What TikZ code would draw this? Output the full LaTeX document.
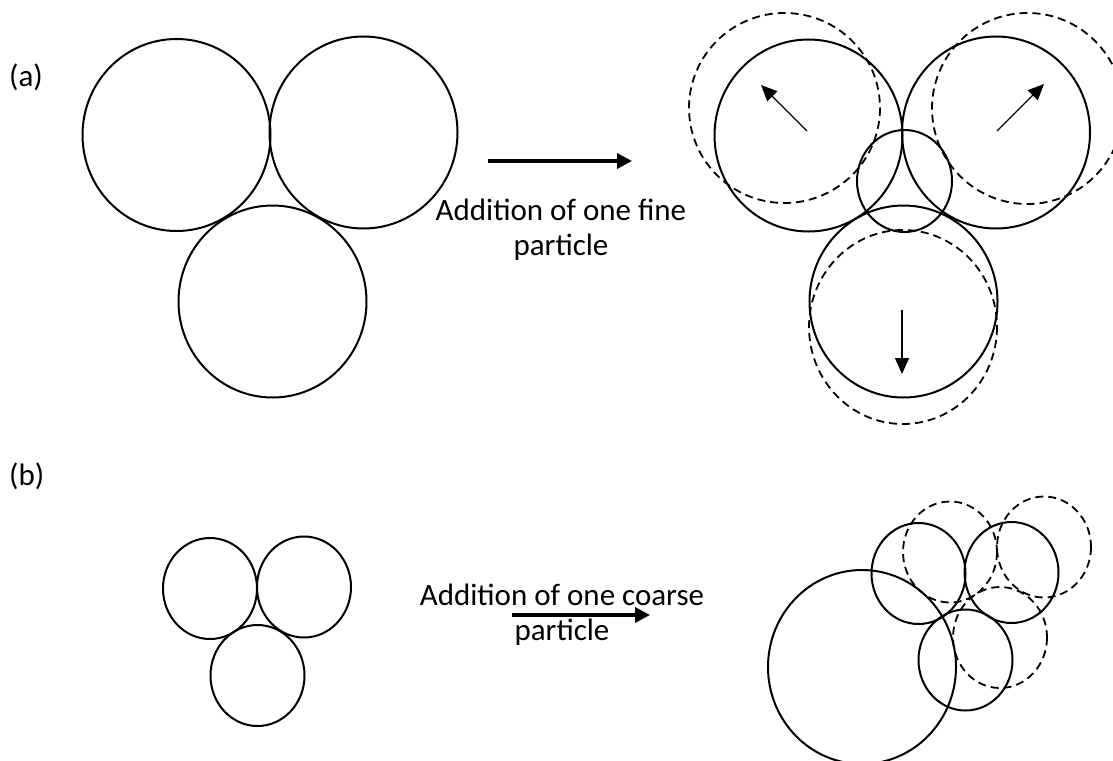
\documentclass[tikz,border=0pt]{standalone}
\usepackage{fontspec}
\setmainfont{Carlito}
\usetikzlibrary{arrows.meta}
\tikzset{
  grain/.style={draw=black, line width=2pt},
  oldgrain/.style={draw=black, line width=1.8pt, dash pattern=on 8pt off 5pt},
  pusharrow/.style={-{Triangle[length=16pt, width=14pt]}, line width=1.3pt},
  addarrow/.style={-{Triangle[length=15pt, width=15pt]}, line width=3.5pt},
  % particle sizes
  coarse/.style={x radius=94, y radius=96},
  fine/.style={x radius=47, y radius=50.5},
}

\begin{document}
\begin{tikzpicture}[
      x=1pt, y=-1pt,
      lbl/.style={font=\fontsize{31}{35}\selectfont, inner sep=0pt},
    ]
    \useasboundingbox (0,0) rectangle (1113,760);

    % (a) fine particle added
    \node[lbl, anchor=west] (labA) at (9,77) {(a)};
    \coordinate (A1) at (176.5,135);
    \coordinate (A2) at (363.5,132.5);
    \coordinate (A3) at (272.5,301.5);
    \draw[grain] (A1) ellipse [coarse];
    \draw[grain] (A2) ellipse [coarse];
    \draw[grain] (A3) ellipse [coarse];

    \coordinate (addA0) at (488,161);
    \coordinate (addA1) at (632,161);
    \draw[addarrow] (addA0) -- (addA1);
    \node[lbl, anchor=base, align=center] (txtA) at (561,255)
      {Addition of one fine\\particle};

    \coordinate (B1) at (808.5,135.5);
    \coordinate (B2) at (996,132.5);
    \coordinate (B3) at (903.5,301.5);
    \coordinate (Bf) at (904.5,181);
    \coordinate (C1) at (784.5,108);
    \coordinate (C2) at (1027.5,108.5);
    \coordinate (C3) at (903,327);
    \draw[oldgrain] (C1) ellipse [x radius=95.5, y radius=95];
    \draw[oldgrain] (C2) ellipse [x radius=95.5, y radius=95.5];
    \draw[oldgrain] (C3) ellipse [x radius=94, y radius=97];
    \draw[grain] (B1) ellipse [coarse];
    \draw[grain] (B2) ellipse [coarse];
    \draw[grain] (B3) ellipse [coarse];
    \draw[grain] (Bf) ellipse [x radius=47.5, y radius=51];

    \coordinate (mv1) at (761,85);
    \coordinate (mv2) at (1044,84);
    \coordinate (mv3) at (902,374);
    \draw[pusharrow] (807,131) -- (mv1);
    \draw[pusharrow] (997,131) -- (mv2);
    \draw[pusharrow] (902,310) -- (mv3);

    % (b) coarse particle added
    \node[lbl, anchor=west] (labB) at (9,476) {(b)};
    \coordinate (D1) at (210,588.5);
    \coordinate (D2) at (304,587);
    \coordinate (D3) at (257.5,675.5);
    \draw[grain] (D1) ellipse [fine];
    \draw[grain] (D2) ellipse [fine];
    \draw[grain] (D3) ellipse [fine];

    \node[lbl, anchor=base, align=center] (txtB) at (562,640)
      {Addition of one coarse\\particle};
    \coordinate (addB0) at (512,615);
    \coordinate (addB1) at (650,615);
    \draw[addarrow] (addB0) -- (addB1);

    \coordinate (E1) at (918.5,573.5);
    \coordinate (E2) at (1011.5,572.5);
    \coordinate (E3) at (965.5,660);
    \coordinate (Eb) at (862,667);
    \coordinate (F1) at (950,552);
    \coordinate (F2) at (1044,547);
    \coordinate (F3) at (1000,637.5);
    \draw[oldgrain] (F1) ellipse [fine];
    \draw[oldgrain] (F2) ellipse [fine];
    \draw[oldgrain] (F3) ellipse [fine];
    \draw[grain] (E1) ellipse [fine];
    \draw[grain] (E2) ellipse [fine];
    \draw[grain] (E3) ellipse [fine];
    \draw[grain] (Eb) ellipse [x radius=94, y radius=97];
  \end{tikzpicture}
\end{document}
